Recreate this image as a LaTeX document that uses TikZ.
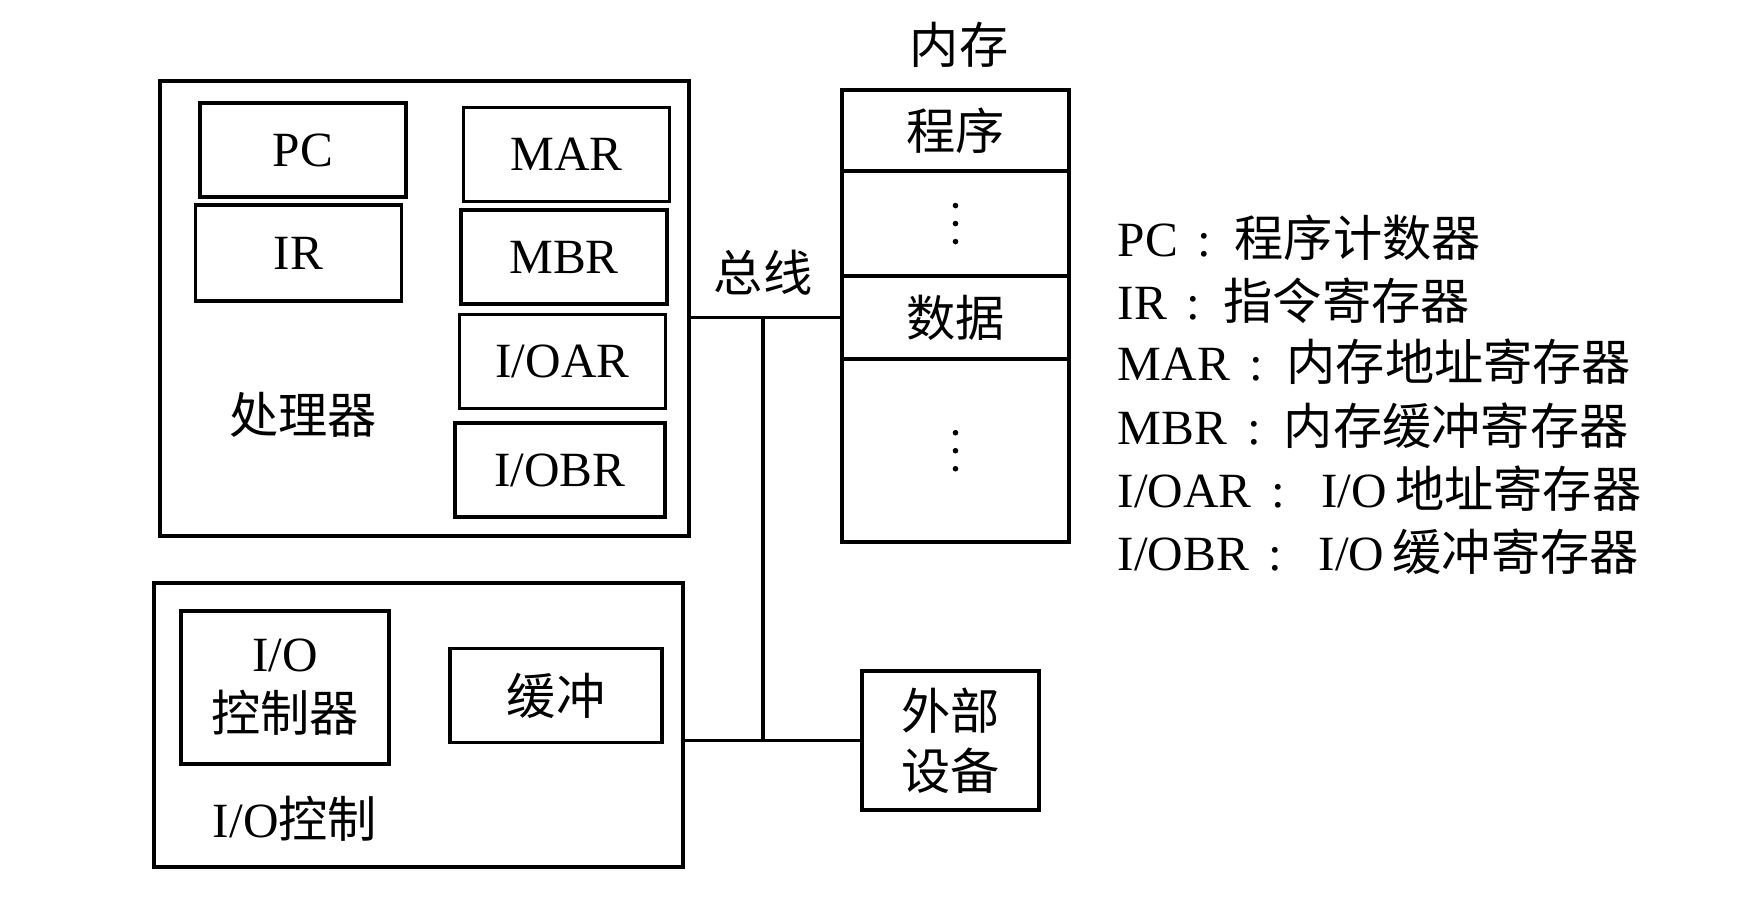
\documentclass[tikz,border=0pt]{standalone}
\usepackage{fontspec}
\setmainfont{Liberation Serif}
\newfontfamily\cjk{Noto Sans CJK SC}
\newcommand{\zh}[1]{{\cjk #1}}
\newcommand{\legsep}[1]{\hspace{0.2cm}:\hspace{#1}}
\usetikzlibrary{positioning}

\begin{document}
\begin{tikzpicture}[x=0.01cm,y=-0.01cm,
    font=\fontsize{14}{19}\selectfont,
    box/.style={draw,line width=1pt,inner sep=0pt,outer sep=0pt},
    reg/.style={box,minimum width=2.06cm,minimum height=0.94cm},
    cell/.style={box,minimum width=2.27cm},
    bus/.style={line width=1pt},
    legend/.style={anchor=west,inner sep=0pt}]
    \useasboundingbox (0,0) rectangle (1759,917);

    % processor
    \node[box,minimum width=5.29cm,minimum height=4.55cm] (cpu) at (424.5,308.5) {};
    \node[reg] (pc) at (303,150) {PC};
    \node[reg,minimum height=0.96cm] (ir) at (298.5,253) {IR};
    \node[reg] (mar) at (566.5,154.5) {MAR};
    \node[reg] (mbr) at (564,257) {MBR};
    \node[reg] (ioar) at (562.5,361.5) {I/OAR};
    \node[reg,minimum width=2.1cm] (iobr) at (560,470) {I/OBR};
    \node (cpulbl) at (303,415) {\zh{处理器}};

    % I/O module
    \node[box,minimum width=5.29cm,minimum height=2.84cm] (ioctl) at (418.5,725) {};
    \node[box,minimum width=2.08cm,minimum height=1.53cm,align=center] (ioc) at (285,687.5) {I/O\\[-2pt]\zh{控制器}};
    \node[reg,minimum width=2.12cm] (buf) at (556,695.5) {\zh{缓冲}};
    \node (iolbl) at (295,819) {I/O\zh{控制}};

    \node[box,minimum width=1.77cm,minimum height=1.39cm,align=center] (dev) at (950.5,740.5) {\zh{外部}\\[-2pt]\zh{设备}};

    % memory
    \node[cell,minimum height=0.81cm] (prog) at (955.5,130.5) {\zh{程序}};
    \node[cell,minimum height=1.05cm,below=0pt of prog] (dots1) {};
    \node[cell,minimum height=0.83cm,below=0pt of dots1] (data) {\zh{数据}};
    \node[cell,minimum height=1.83cm,below=0pt of data] (dots2) {};
    \node (memlbl) at (959,45) {\zh{内存}};
    \foreach \c in {dots1,dots2}
        \foreach \dy in {-18,0,18}
            \fill ([yshift=\dy*0.01cm]\c.center) circle (0.028cm);

    % bus
    \coordinate (jt) at (763,317.5);
    \node (buslbl) at (763,273) {\zh{总线}};
    \draw[bus] (cpu.east |- data.west) -- (data.west);
    \draw[bus] (jt) -- (jt |- dev.west);
    \draw[bus] (ioctl.east |- dev.west) -- (dev.west);

    % legend
    \node[legend] (l1) at (1117,238) {PC\legsep{0.23cm}\zh{程序计数器}};
    \node[legend] (l2) at (1117,301) {IR\legsep{0.23cm}\zh{指令寄存器}};
    \node[legend] (l3) at (1117,362) {MAR\legsep{0.23cm}\zh{内存地址寄存器}};
    \node[legend] (l4) at (1117,426) {MBR\legsep{0.23cm}\zh{内存缓冲寄存器}};
    \node[legend] (l5) at (1117,489) {I/OAR\legsep{0.36cm}I/O\,\zh{地址寄存器}};
    \node[legend] (l6) at (1117,552) {I/OBR\legsep{0.36cm}I/O\,\zh{缓冲寄存器}};
\end{tikzpicture}
\end{document}
